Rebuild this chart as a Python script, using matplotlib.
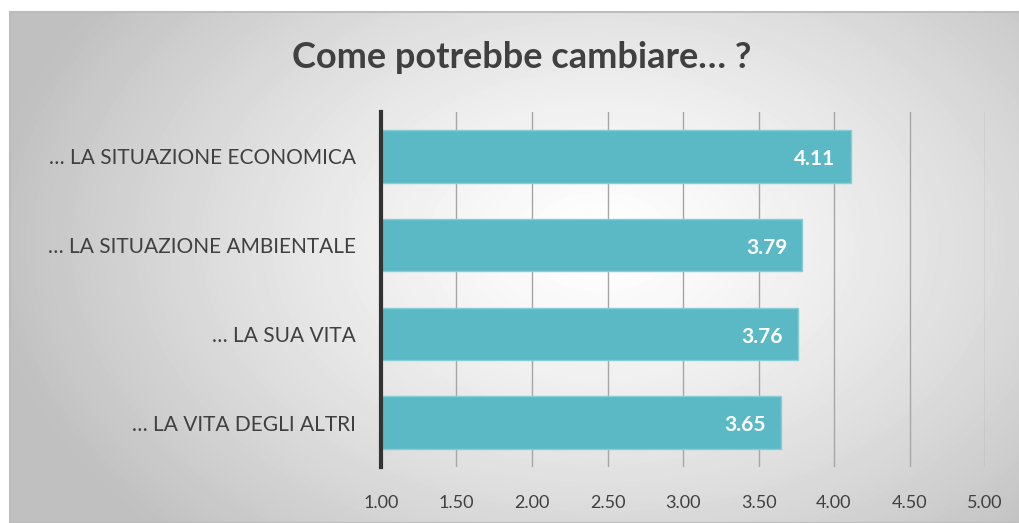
import matplotlib.pyplot as plt
import numpy as np

# data
categories = ['… LA SITUAZIONE ECONOMICA', '… LA SITUAZIONE AMBIENTALE',
              '… LA SUA VITA', '… LA VITA DEGLI ALTRI']
values = [4.11, 3.79, 3.76, 3.65]
ticks = [1.0, 1.5, 2.0, 2.5, 3.0, 3.5, 4.0, 4.5, 5.0]

plt.rcParams['font.family'] = ['Lato', 'DejaVu Sans']

fig = plt.figure(figsize=(10.2, 5.23), dpi=100)

# radial grey gradient background inside a framed box
bg = fig.add_axes([10/1020, 0, 1010/1020, 511/523])
yy, xx = np.mgrid[0:511, 0:1010]
r = np.sqrt(((xx - 590)/620.0)**2 + ((yy - 230)/420.0)**2)
shade = 1.0 - 0.25*np.clip(r, 0, 1)**1.3
bg.imshow(shade, cmap='gray', vmin=0, vmax=1, aspect='auto', interpolation='bilinear')
bg.set_xticks([])
bg.set_yticks([])
for s in bg.spines.values():
    s.set_color('#bdbdbd')
    s.set_linewidth(1.5)

ax = fig.add_axes([381/1020, 56/523, 604/1020, 355/523])
ax.patch.set_alpha(0)
ypos = np.arange(len(categories))
ax.barh(ypos, [v - 1 for v in values], left=1, height=0.59,
        color='#5bb8c5', edgecolor='#86cdd6', linewidth=1, zorder=3)
for y, v in zip(ypos, values):
    ax.text(v - 0.1, y + 0.03, f'{v:.2f}', ha='right', va='center', color='white',
            fontsize=15, fontweight='bold', zorder=4)

ax.set_xlim(1, 5)
ax.set_ylim(len(categories) - 0.5, -0.5)
ax.set_xticks(ticks)
ax.set_xticklabels([f'{t:.2f}' for t in ticks], fontsize=13, color='#404040')
ax.set_yticks(ypos)
ax.set_yticklabels(categories, fontsize=15, color='#404040')
ax.tick_params(axis='both', length=0)
ax.tick_params(axis='x', pad=20)
ax.tick_params(axis='y', pad=18)
ax.grid(axis='x', color='#a6a6a6', linewidth=1, zorder=0)
for s in ['top', 'right', 'bottom']:
    ax.spines[s].set_visible(False)
ax.spines['left'].set_color('#333333')
ax.spines['left'].set_linewidth(3)
ax.spines['left'].set_zorder(5)

fig.text(522/1020, 1 - 57/523, 'Come potrebbe cambiare… ?', ha='center', va='center',
         fontsize=26, fontweight='bold', color='#404040')

fig.savefig('out.png', dpi=100)
